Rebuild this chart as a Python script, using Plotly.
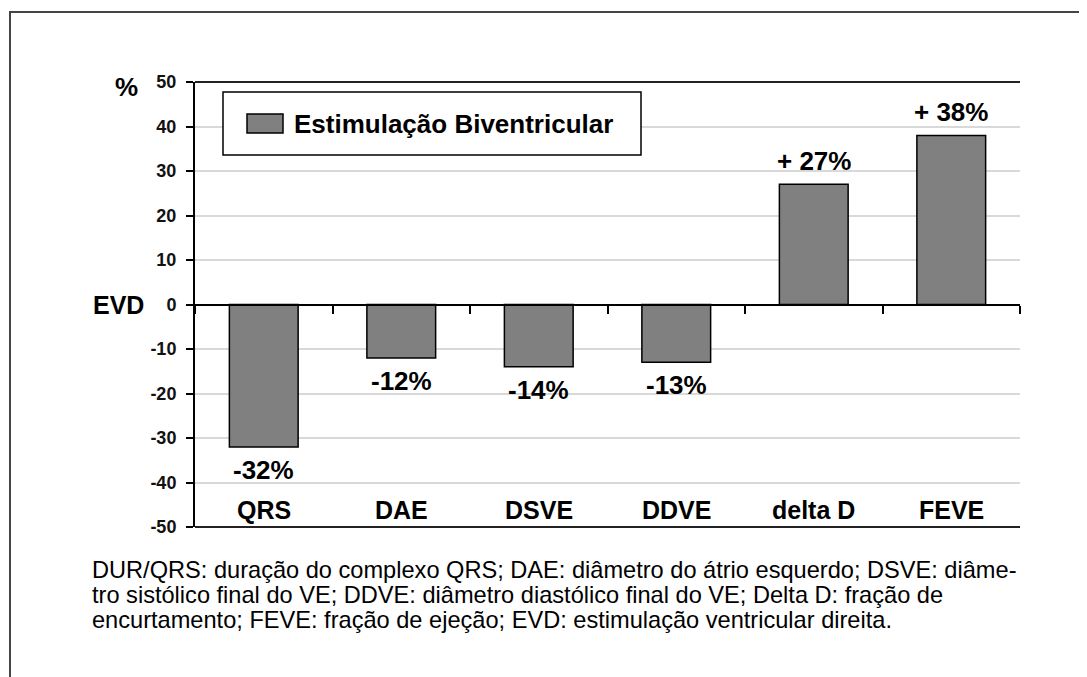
import plotly.graph_objects as go

categories = ["QRS", "DAE", "DSVE", "DDVE", "delta D", "FEVE"]
values = [-32, -12, -14, -13, 27, 38]
y_ticks = [50, 40, 30, 20, 10, 0, -10, -20, -30, -40, -50]
series_name = "Estimulação Biventricular"
caption_lines = [
    "DUR/QRS: duração do complexo QRS; DAE: diâmetro do átrio esquerdo; DSVE: diâme-",
    "tro sistólico final do VE; DDVE: diâmetro diastólico final do VE; Delta D: fração de",
    "encurtamento; FEVE: fração de ejeção; EVD: estimulação ventricular direita.",
]

FONT = "Arial, Liberation Sans, sans-serif"
W, H = 1087, 677
# the page body adds 8px, plot area ends up at x 195-1020, y 82-527
L, R, T, B = 187, 75, 74, 158
X0, X1, Y0, Y1 = 195, 1020, 82, 527


def px(xp):
    return (xp - X0) / (X1 - X0)


def py(yp):
    return (Y1 - yp) / (Y1 - Y0)


labels = [f"+ {v}%" if v > 0 else f"{v}%" for v in values]

fig = go.Figure()
fig.add_trace(go.Bar(
    x=categories, y=values, width=0.5, name=series_name,
    marker=dict(color="#808080", line=dict(color="black", width=1.5)),
    showlegend=False, hoverinfo="x+y",
))

shapes = [
    # top and bottom frame lines
    dict(type="line", xref="paper", yref="paper", x0=0, x1=1, y0=1, y1=1,
         line=dict(color="#222", width=2)),
    dict(type="line", xref="paper", yref="paper", x0=0, x1=1, y0=0, y1=0,
         line=dict(color="#222", width=2)),
    # outer border
    dict(type="rect", xref="paper", yref="paper", x0=px(10), x1=px(1110),
         y0=py(720), y1=py(12), line=dict(color="#444", width=2)),
    # legend box and swatch
    dict(type="rect", xref="paper", yref="paper", x0=px(223), x1=px(641),
         y0=py(155), y1=py(92), line=dict(color="black", width=1.5),
         fillcolor="white"),
    dict(type="rect", xref="paper", yref="paper", x0=px(247), x1=px(283),
         y0=py(133), y1=py(114), line=dict(color="black", width=1.5),
         fillcolor="#808080"),
]

bold = lambda s: dict(family=FONT, size=s, color="black", weight="bold")

annotations = [
    dict(text=series_name, xref="paper", yref="paper", x=px(292), y=py(124),
         xanchor="left", yanchor="middle", showarrow=False, font=bold(26)),
    dict(text="%", xref="paper", yref="paper", x=px(126), y=py(87),
         xanchor="center", yanchor="middle", showarrow=False, font=bold(26)),
    dict(text="EVD", xref="paper", yref="y", x=px(118), y=0,
         xanchor="center", yanchor="middle", showarrow=False, font=bold(25)),
]
for c, v, lab in zip(categories, values, labels):
    annotations.append(dict(
        text=lab, x=c, y=v, xref="x", yref="y",
        yanchor="bottom" if v > 0 else "top", yshift=6 if v > 0 else -6,
        showarrow=False, font=bold(26)))
    annotations.append(dict(
        text=c, x=c, y=-50, xref="x", yref="y", yanchor="bottom", yshift=1,
        showarrow=False, font=bold(25)))
for i, line in enumerate(caption_lines):
    annotations.append(dict(
        text=line, xref="paper", yref="paper", x=px(90), y=py(570 + 25 * i),
        xanchor="left", yanchor="middle", showarrow=False,
        font=dict(family=FONT, size=23.6, color="black")))

fig.update_layout(
    width=W, height=H,
    margin=dict(l=L, r=R, t=T, b=B),
    paper_bgcolor="white", plot_bgcolor="white",
    shapes=shapes, annotations=annotations,
    xaxis=dict(
        anchor="free", position=0.5, range=[-0.5, 5.5],
        showline=True, linecolor="black", linewidth=2,
        ticks="outside", tickson="boundaries", ticklen=8, tickwidth=2,
        tickcolor="black", showticklabels=False, showgrid=False,
    ),
    yaxis=dict(
        range=[-50, 50], tickvals=y_ticks, ticktext=[str(v) for v in y_ticks],
        showline=True, linecolor="black", linewidth=2,
        ticks="outside", ticklen=7, tickwidth=2, tickcolor="black",
        gridcolor="#d9d9d9", gridwidth=1.5, zeroline=False,
        ticklabelstandoff=6,
        tickfont=dict(family=FONT, size=18, color="#111", weight="bold"),
    ),
)

fig.write_html("out.html")
